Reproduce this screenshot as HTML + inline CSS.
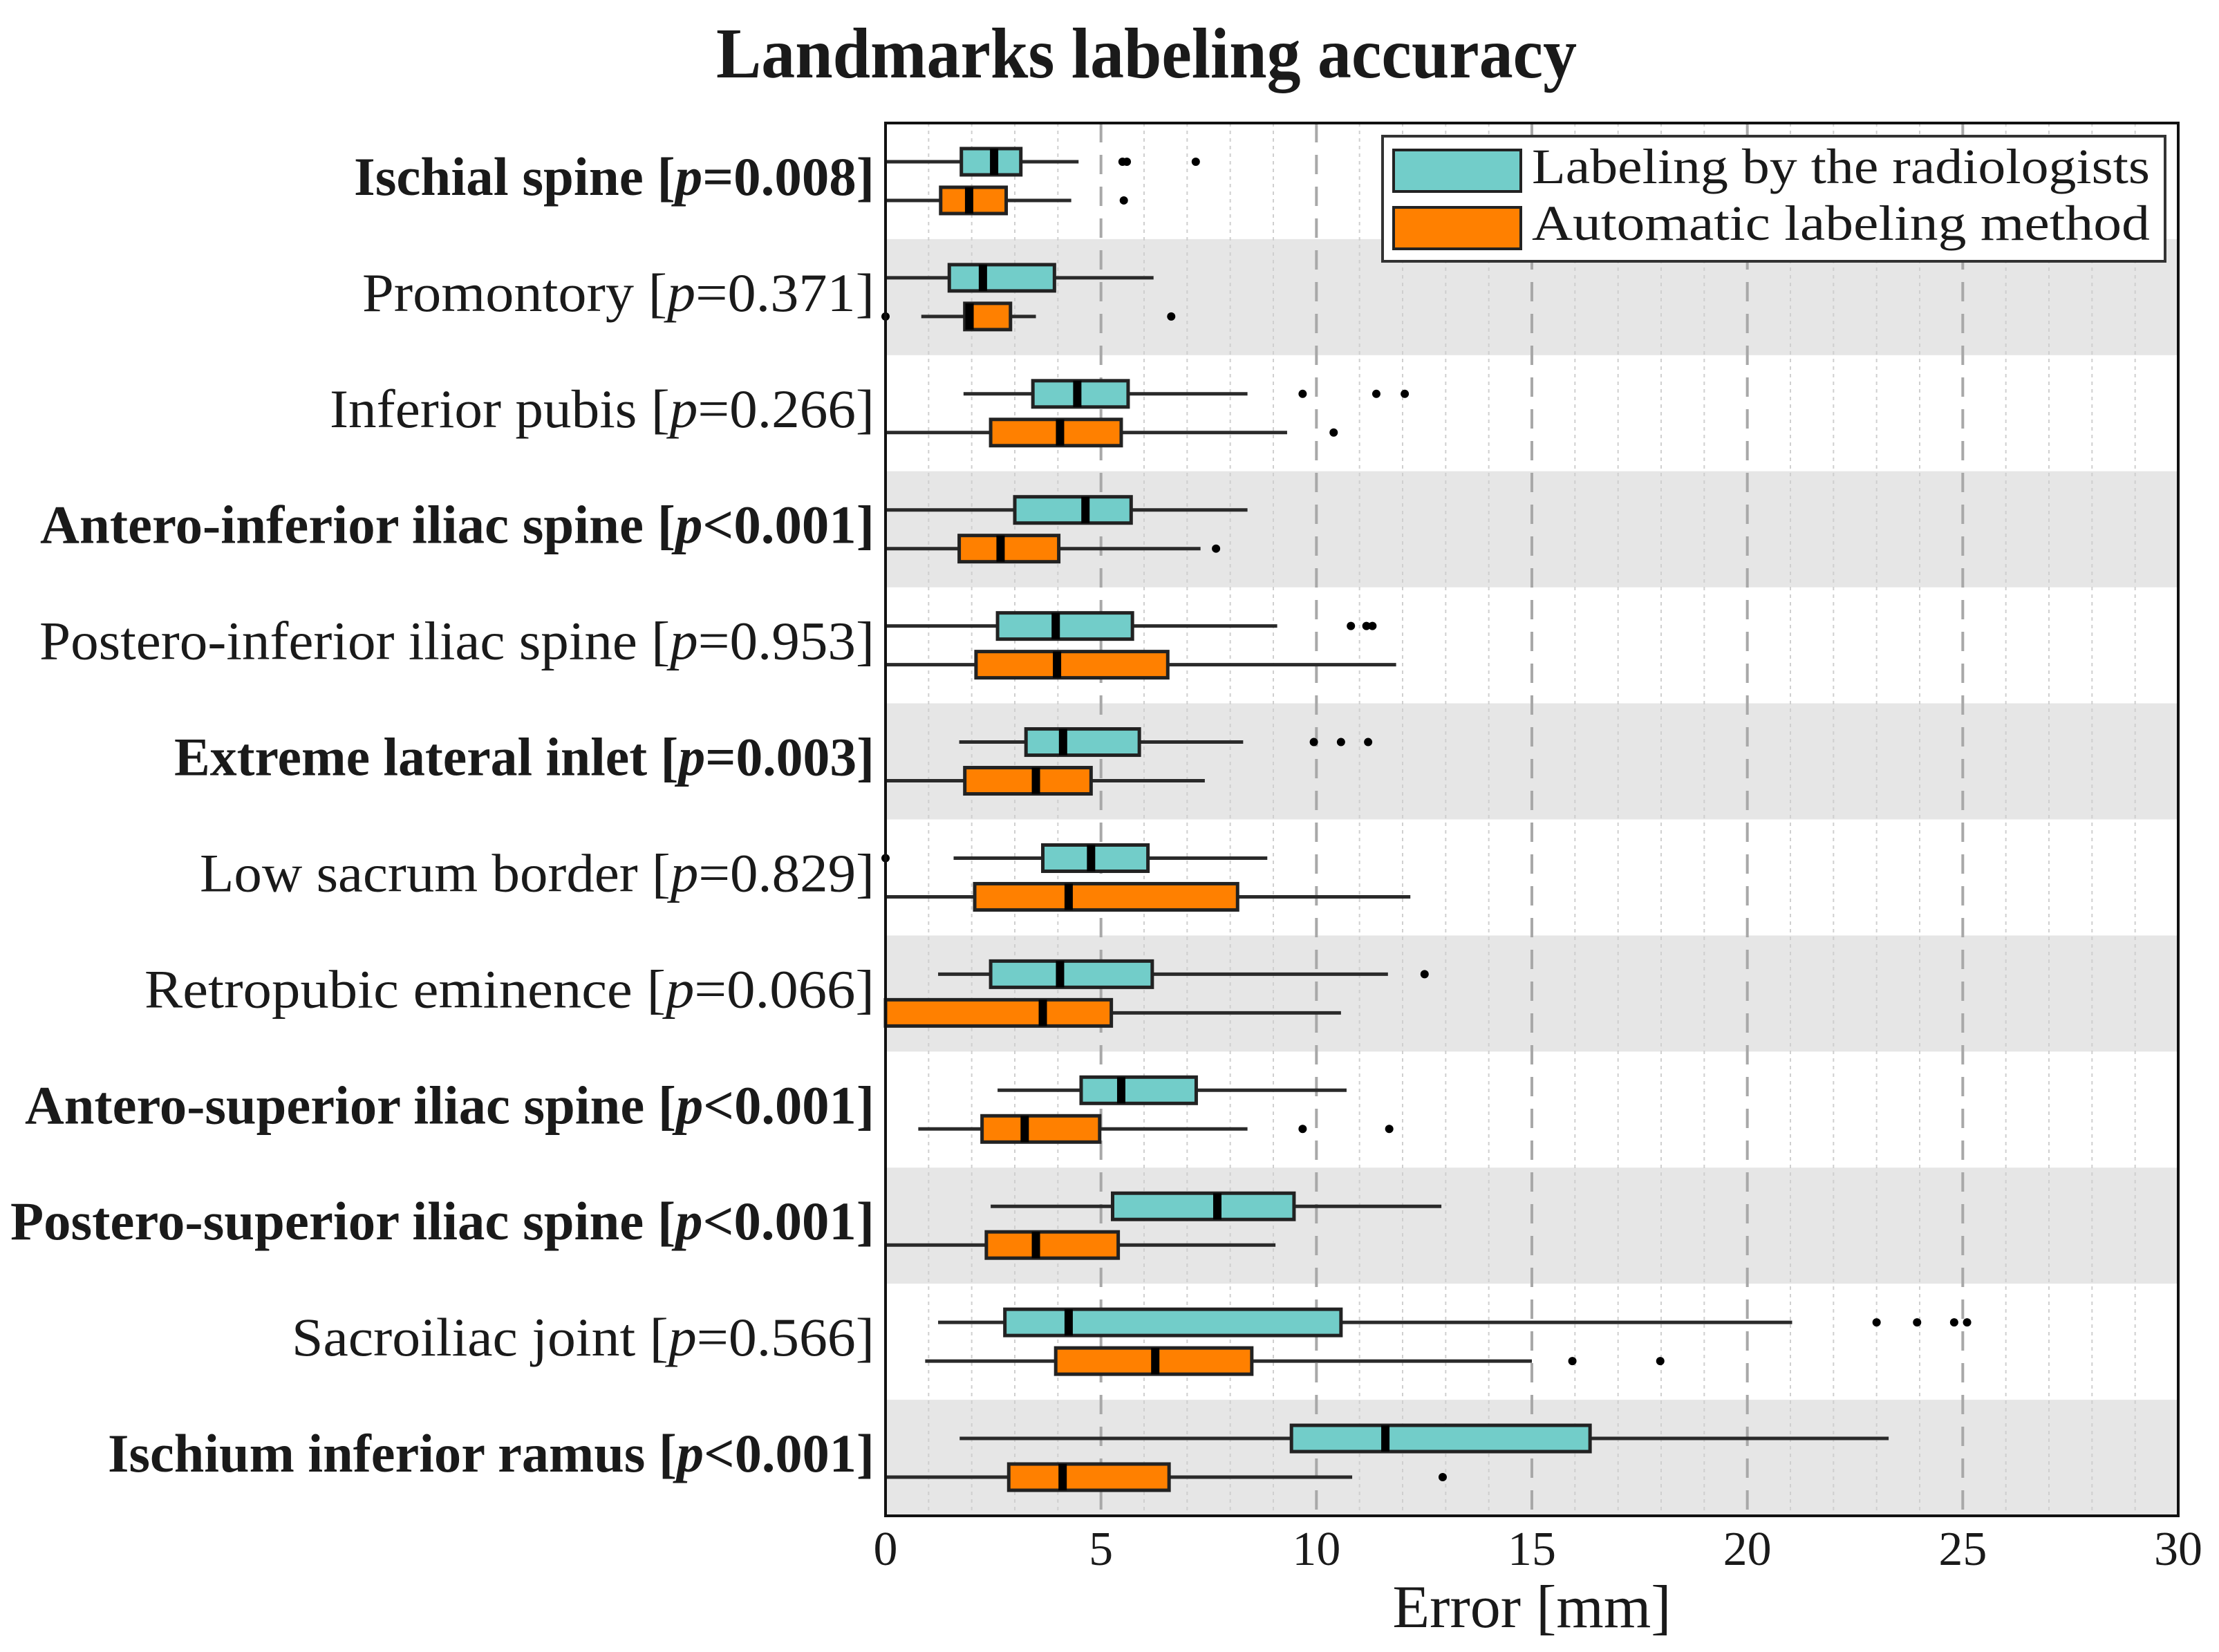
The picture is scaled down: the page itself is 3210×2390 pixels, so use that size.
<!DOCTYPE html>
<html><head><meta charset="utf-8"><style>
html,body{margin:0;padding:0;background:#fff;}
svg{display:block;}
text{font-family:"Liberation Serif",serif;fill:#1a1a1a;}
</style></head><body>
<svg id="chart" width="3210" height="2390" viewBox="0 0 3210 2390" xmlns="http://www.w3.org/2000/svg">
<text x="1036" y="112" font-size="104" font-weight="bold" textLength="1245" lengthAdjust="spacingAndGlyphs">Landmarks labeling accuracy</text>
<g id="bands"></g><g id="grid"></g><g id="marks"></g><g id="labels"></g><g id="ticks"></g>
<rect x="1281" y="178" width="1870" height="2015" fill="none" stroke="#111" stroke-width="4"/>
<g>
<rect x="2000" y="197" width="1132" height="181" fill="#fff" stroke="#333" stroke-width="4"/>
<rect x="2016" y="217" width="184" height="60" fill="#72cdc9" stroke="#222" stroke-width="4"/>
<text x="2216" y="265" font-size="72" textLength="894" lengthAdjust="spacingAndGlyphs">Labeling by the radiologists</text>
<rect x="2016" y="300" width="184" height="60" fill="#ff8000" stroke="#222" stroke-width="4"/>
<text x="2216" y="347" font-size="72" textLength="894" lengthAdjust="spacingAndGlyphs">Automatic labeling method</text>
</g>
<text x="2216" y="2354" font-size="88" text-anchor="middle">Error [mm]</text>
</svg>
<script>
const categories = ["Ischial spine","Promontory","Inferior pubis","Antero-inferior iliac spine","Postero-inferior iliac spine","Extreme lateral inlet","Low sacrum border","Retropubic eminence","Antero-superior iliac spine","Postero-superior iliac spine","Sacroiliac joint","Ischium inferior ramus"];
const pvalues = ["=0.008","=0.371","=0.266","<0.001","=0.953","=0.003","=0.829","=0.066","<0.001","<0.001","=0.566","<0.001"];
const significant = [true,false,false,true,false,true,false,false,true,true,false,true];
// [whiskerLow, q1, median, q3, whiskerHigh]
const radiologists = [
 [0,1.76,2.52,3.14,4.48],[0,1.48,2.26,3.92,6.22],[1.81,3.42,4.45,5.63,8.4],[0,3.0,4.64,5.7,8.4],
 [0,2.6,3.95,5.73,9.09],[1.71,3.26,4.12,5.89,8.3],[1.58,3.65,4.77,6.09,8.86],[1.22,2.44,4.05,6.19,11.66],
 [2.6,4.54,5.47,7.21,10.7],[2.44,5.27,7.7,9.48,12.9],[1.22,2.77,4.25,10.57,21.04],[1.72,9.42,11.6,16.35,23.28]];
const automatic = [
 [0,1.28,1.94,2.8,4.31],[0.83,1.84,1.95,2.9,3.49],[0,2.44,4.05,5.47,9.32],[0,1.71,2.67,4.02,7.31],
 [0,2.1,3.98,6.55,11.85],[0,1.84,3.49,4.77,7.41],[0,2.07,4.25,8.17,12.18],[0,0,3.65,5.24,10.57],
 [0.76,2.24,3.23,4.97,8.4],[0,2.34,3.49,5.4,9.05],[0.92,3.95,6.26,8.5,15.0],[0,2.86,4.11,6.58,10.83]];
const radiologistsOutliers = [[5.5,5.6,7.2],[],[9.68,11.39,12.05],[],[10.8,11.16,11.3],[9.94,10.57,11.2],[0],[12.51],[],[],[23.0,23.94,24.8,25.1],[]];
const automaticOutliers = [[5.53],[0,6.63],[10.4],[7.67],[],[],[],[],[9.68,11.69],[],[15.94,17.98],[12.93]];
const xTicks = [0,5,10,15,20,25,30];
const labelWidths = [753,741,788,1207,1208,1013,976,1056,1229,1250,843,1109];

const NS="http://www.w3.org/2000/svg";
const X0=1281,X1=3151,Y0=178,Y1=2193,XMAX=30;
const rowH=(Y1-Y0)/categories.length;
function xs(v){return X0+v/XMAX*(X1-X0);}
function rowTop(i){return Y0+i*rowH;}
function mk(tag,attrs,parent){const e=document.createElementNS(NS,tag);for(const k in attrs)e.setAttribute(k,attrs[k]);parent.appendChild(e);return e;}
const bands=document.getElementById('bands'),grid=document.getElementById('grid'),marks=document.getElementById('marks'),labels=document.getElementById('labels'),ticks=document.getElementById('ticks');
categories.forEach((c,i)=>{if(i%2===1){const r=mk('rect',{x:X0,y:rowTop(i),width:X1-X0,height:rowH,fill:'#e6e6e6'},bands);

}});
for(let v=1;v<XMAX;v++){const major=v%5===0;
 const l=mk('line',{x1:xs(v),x2:xs(v),y1:Y0,y2:Y1,stroke:major?'#a8a8a8':'#cfcfcf','stroke-width':major?4:2,'stroke-dasharray':major?'28 18':'5 6'},grid);
 
 }
function drawBox(d,cy,fill,name){
 const g=mk('g',{},marks);
 
 
 mk('line',{x1:xs(d[0]),x2:xs(d[4]),y1:cy,y2:cy,stroke:'#2a2a2a','stroke-width':5},g);
 mk('rect',{x:xs(d[1]),y:cy-19,width:Math.max(0,xs(d[3])-xs(d[1])),height:38,fill:fill,stroke:'#222','stroke-width':5},g);
 mk('rect',{x:xs(d[2])-6,y:cy-19,width:12,height:38,fill:'#000'},g);}
function drawOut(arr,cy,name){arr.forEach(v=>{const c=mk('circle',{cx:xs(v),cy:cy,r:6,fill:'#000'},marks);
 
 });}
categories.forEach((c,i)=>{
 const t=rowTop(i),cy1=t+rowH/3,cy2=t+2*rowH/3;
 drawBox(radiologists[i],cy1,'#72cdc9','box-radiologists');
 drawBox(automatic[i],cy2,'#ff8000','box-automatic');
 drawOut(radiologistsOutliers[i],cy1,'outlier-radiologists');
 drawOut(automaticOutliers[i],cy2,'outlier-automatic');
 const tx=mk('text',{x:1265,y:t+rowH/2+20,'font-size':78,'text-anchor':'end','font-weight':significant[i]?'bold':'normal',textLength:labelWidths[i],lengthAdjust:'spacingAndGlyphs'},labels);
 
 
 tx.appendChild(document.createTextNode(c+' ['));
 const p=mk('tspan',{'font-style':'italic'},tx);p.textContent='p';
 tx.appendChild(document.createTextNode(pvalues[i]+']'));
});
xTicks.forEach(v=>{const t=mk('text',{x:xs(v),y:2264,'font-size':70,'text-anchor':'middle'},ticks);
 
 
 t.textContent=v;});
</script>
</body></html>
